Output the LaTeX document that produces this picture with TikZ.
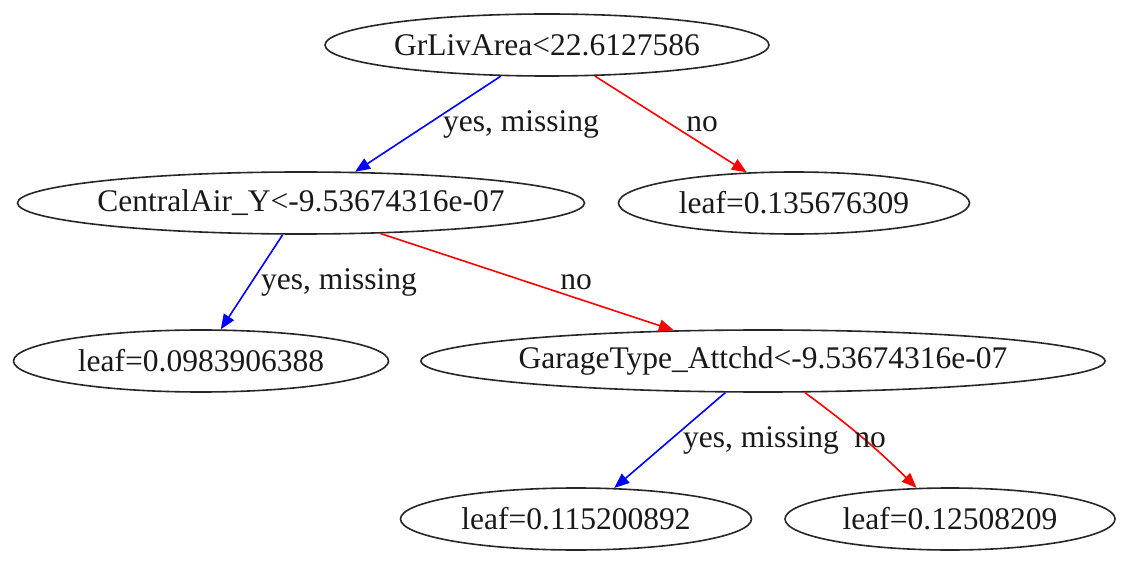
\documentclass[tikz,border=0pt]{standalone}
\usepackage{fontspec}
\setmainfont{Liberation Serif}
\usetikzlibrary{shapes.geometric,arrows.meta}
\newcommand{\ztext}[1]{\makebox[0pt]{#1}}
\begin{document}
\begin{tikzpicture}[x=1pt,y=-1pt,
  every node/.style={font=\fontsize{31.5}{36}\selectfont, text=black!90},
  tnode/.style={ellipse, draw=black!85, line width=1.6pt, inner sep=0pt, minimum height=62pt},
  lbl/.style={inner sep=0pt},
  edge/.style={line width=1.6pt},
  yesedge/.style={edge, draw=blue, -{Triangle[length=15pt,width=12pt,fill=blue]}},
  noedge/.style={edge, draw=red, -{Triangle[length=15pt,width=12pt,fill=red]}}]
\useasboundingbox (0,0) rectangle (1130,569);
\node[tnode, minimum width=444pt] (root) at (547,45) {\ztext{GrLivArea<22.6127586}};
\node[tnode, minimum width=567pt] (ca) at (301,203) {\ztext{CentralAir\_Y<-9.53674316e-07}};
\node[tnode, minimum width=351pt] (l1) at (794,203) {\ztext{leaf=0.135676309}};
\node[tnode, minimum width=375pt] (l2) at (201,361) {\ztext{leaf=0.0983906388}};
\node[tnode, minimum width=684pt] (ga) at (763,361) {\ztext{GarageType\_Attchd<-9.53674316e-07}};
\node[tnode, minimum width=351pt] (l3) at (576,519) {\ztext{leaf=0.115200892}};
\node[tnode, minimum width=330pt] (l4) at (950,519) {\ztext{leaf=0.12508209}};

\draw[yesedge] (root.214.2) -- (ca.30.5);
\draw[noedge] (root.327.4) -- (l1.147.7);
\draw[yesedge] (ca.240.1) -- (l2.58);
\draw[noedge] (ca.339.7) -- (ga.161.8);
\draw[yesedge] (ga.220.2) -- (l3.39.8);
\draw[noedge] (ga.323.1) to[bend left=4] (l4.137.7);

\node[lbl] (t1) at (521,124) {yes, missing};
\node[lbl] (t2) at (702,124) {no};
\node[lbl] (t3) at (339,282) {yes, missing};
\node[lbl] (t4) at (576,282) {no};
\node[lbl] (t5) at (761,440) {yes, missing};
\node[lbl] (t6) at (870,440) {no};
\end{tikzpicture}
\end{document}
